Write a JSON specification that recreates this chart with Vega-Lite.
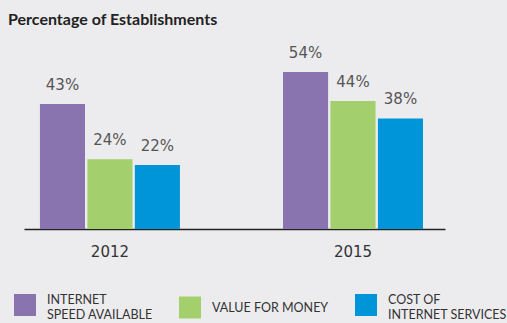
{
  "$schema": "https://vega.github.io/schema/vega-lite/v6.json",
  "width": 421,
  "height": 176,
  "autosize": {"type": "none"},
  "padding": {"left": 24, "top": 53, "right": 62, "bottom": 94},
  "background": "#ECECEE",
  "title": {
    "text": "Percentage of Establishments",
    "anchor": "start",
    "frame": "group",
    "dx": -16,
    "offset": 18,
    "font": "Lato",
    "fontSize": 16,
    "fontWeight": "bold",
    "color": "#222222"
  },
  "data": {
    "values": [
      {"year": "2012", "category": "INTERNET|SPEED AVAILABLE", "value": 43},
      {"year": "2012", "category": "VALUE FOR MONEY", "value": 24},
      {"year": "2012", "category": "COST OF|INTERNET SERVICES", "value": 22},
      {"year": "2015", "category": "INTERNET|SPEED AVAILABLE", "value": 54},
      {"year": "2015", "category": "VALUE FOR MONEY", "value": 44},
      {"year": "2015", "category": "COST OF|INTERNET SERVICES", "value": 38}
    ]
  },
  "config": {
    "view": {"stroke": null},
    "legend": {"padding": 0}
  },
  "encoding": {
    "x": {
      "field": "year",
      "type": "nominal",
      "scale": {"paddingInner": 0.424, "paddingOuter": 0.078, "align": 0.42},
      "axis": {
        "title": null,
        "labelAngle": 0,
        "ticks": false,
        "domainColor": "#222222",
        "domainWidth": 1.5,
        "labelFont": "DejaVu Sans",
        "labelFontSize": 15,
        "labelColor": "#333333",
        "labelPadding": 15
      }
    },
    "xOffset": {
      "field": "category",
      "type": "nominal",
      "sort": ["INTERNET|SPEED AVAILABLE", "VALUE FOR MONEY", "COST OF|INTERNET SERVICES"],
      "scale": {"paddingInner": 0.05}
    },
    "y": {
      "field": "value",
      "type": "quantitative",
      "scale": {"domain": [0, 60.5]},
      "axis": null
    }
  },
  "layer": [
    {
      "mark": {"type": "bar"},
      "encoding": {
        "color": {
          "field": "category",
          "type": "nominal",
          "scale": {
            "domain": ["INTERNET|SPEED AVAILABLE", "VALUE FOR MONEY", "COST OF|INTERNET SERVICES"],
            "range": ["#8A74B0", "#A3D06C", "#0095D9"]
          },
          "legend": {
            "title": null,
            "orient": "none",
            "legendX": -10,
            "legendY": 241,
            "direction": "horizontal",
            "columns": 3,
            "columnPadding": 26,
            "symbolType": "square",
            "symbolSize": 484,
            "symbolStrokeWidth": 0,
            "symbolOpacity": 1,
            "labelOffset": 11,
            "labelFont": "Lato",
            "labelFontSize": 12.5,
            "labelColor": "#333333",
            "labelLimit": 300,
            "labelExpr": "split(datum.label, '|')",
            "labelLineHeight": 16,
            "encode": {
              "labels": {
                "update": {
                  "dy": {"signal": "indexof(datum.value, '|') >= 0 ? -5 : 0"}
                }
              }
            }
          }
        }
      }
    },
    {
      "mark": {
        "type": "text",
        "baseline": "alphabetic",
        "dy": -14,
        "font": "DejaVu Sans",
        "fontSize": 15,
        "color": "#555555",
        "text": {"expr": "datum.value + '%'"}
      },
      "encoding": {
        "detail": {"field": "category"}
      }
    }
  ]
}
